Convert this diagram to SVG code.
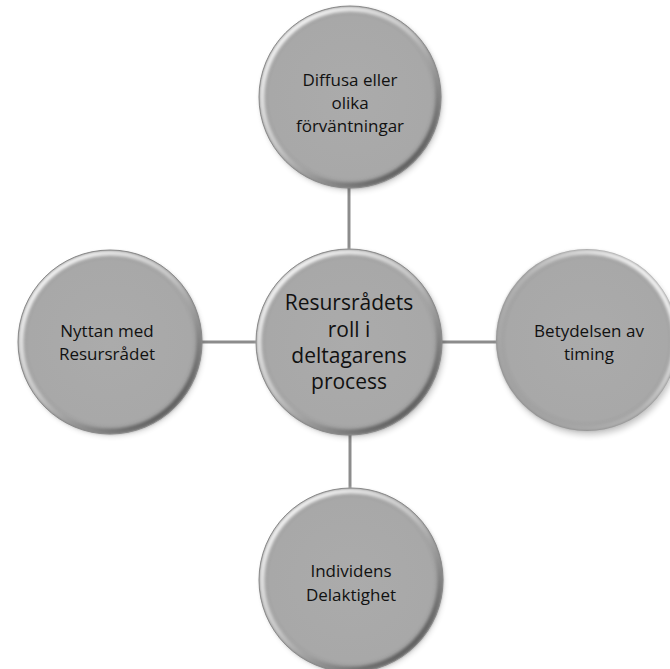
<svg xmlns="http://www.w3.org/2000/svg" width="670" height="669" viewBox="0 0 670 669">
<defs>
<radialGradient id="fillG" cx="50%" cy="50%" r="50%">
<stop offset="0" stop-color="#ababab"/>
<stop offset="0.88" stop-color="#a8a8a8"/>
<stop offset="0.95" stop-color="#a0a0a0"/>
<stop offset="1" stop-color="#858585"/>
</radialGradient>
<linearGradient id="bevel" x1="0.15" y1="0.1" x2="0.85" y2="0.9">
<stop offset="0" stop-color="#f4f4f4"/>
<stop offset="0.45" stop-color="#c8c8c8"/>
<stop offset="1" stop-color="#5a5a5a"/>
</linearGradient>
<linearGradient id="bevelR" x1="0.9" y1="0.2" x2="0.1" y2="0.9">
<stop offset="0" stop-color="#f0f0f0"/>
<stop offset="0.5" stop-color="#b4b4b4"/>
<stop offset="1" stop-color="#a0a0a0"/>
</linearGradient>
<filter id="soft" x="-10%" y="-10%" width="120%" height="120%">
<feGaussianBlur stdDeviation="1.6"/>
</filter>
<filter id="shadow" x="-20%" y="-20%" width="140%" height="140%">
<feGaussianBlur stdDeviation="3"/>
</filter>
</defs>
<style>
.disc{fill:url(#fillG);}
.ring{fill:none;stroke:url(#bevel);stroke-width:5;filter:url(#soft);}
.ringR{fill:none;stroke:url(#bevelR);stroke-width:5;filter:url(#soft);}
.edge{fill:none;stroke:#8a8a8a;stroke-width:1;}
.shadow{fill:#000;opacity:0.22;filter:url(#shadow);}
.conn{stroke:#8c8c8c;stroke-width:3;fill:none;}
.t{font-family:"Open Sans","Noto Sans","Liberation Sans",sans-serif;font-size:17px;fill:#111;text-anchor:middle;}
.tc{font-family:"Open Sans","Noto Sans","Liberation Sans",sans-serif;font-size:21px;fill:#111;text-anchor:middle;}
</style>
<g id="connectors">
<line class="conn" x1="349" y1="185" x2="349" y2="252"/>
<line class="conn" x1="200" y1="342" x2="258" y2="342"/>
<line class="conn" x1="442" y1="342" x2="500" y2="342"/>
<line class="conn" x1="350" y1="432" x2="350" y2="490"/>
</g>
<g id="node-top">
<circle class="shadow" cx="352" cy="100" r="90"/>
<circle class="disc" cx="350" cy="97" r="91"/>
<circle class="ring" cx="350" cy="97" r="88"/>
<circle class="edge" cx="350" cy="97" r="91"/>
<text class="t" x="350" y="86">Diffusa eller</text>
<text class="t" x="350" y="109">olika</text>
<text class="t" x="350" y="132">förväntningar</text>
</g>
<g id="node-center">
<circle class="shadow" cx="352" cy="345" r="92"/>
<circle class="disc" cx="349" cy="342" r="93"/>
<circle class="ring" cx="349" cy="342" r="90"/>
<circle class="edge" cx="349" cy="342" r="93"/>
<text class="tc" x="349" y="310">Resursrådets</text>
<text class="tc" x="349" y="337">roll i</text>
<text class="tc" x="349" y="363">deltagarens</text>
<text class="tc" x="349" y="389">process</text>
</g>
<g id="node-right">
<circle class="shadow" cx="589" cy="345" r="90"/>
<circle class="disc" cx="587" cy="340" r="91"/>
<circle class="ringR" cx="587" cy="340" r="88"/>
<text class="t" x="589" y="337">Betydelsen av</text>
<text class="t" x="589" y="360">timing</text>
</g>
<g id="node-left">
<circle class="shadow" cx="112" cy="345" r="90"/>
<circle class="disc" cx="110" cy="342" r="92"/>
<circle class="ring" cx="110" cy="342" r="89"/>
<circle class="edge" cx="110" cy="342" r="92"/>
<text class="t" x="107" y="337">Nyttan med</text>
<text class="t" x="107" y="360">Resursrådet</text>
</g>
<g id="node-bottom">
<circle class="shadow" cx="353" cy="583" r="90"/>
<circle class="disc" cx="351" cy="580" r="92"/>
<circle class="ring" cx="351" cy="580" r="89"/>
<circle class="edge" cx="351" cy="580" r="92"/>
<text class="t" x="351" y="577">Individens</text>
<text class="t" x="351" y="601">Delaktighet</text>
</g>
</svg>
